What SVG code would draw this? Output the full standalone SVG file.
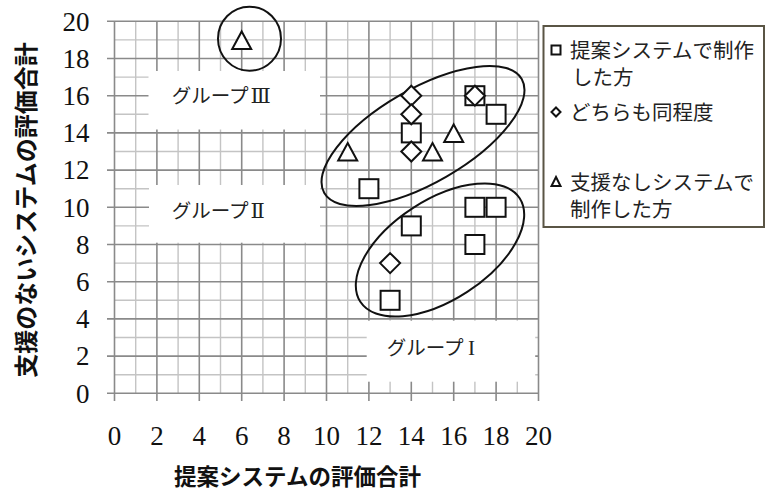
<svg xmlns="http://www.w3.org/2000/svg" xmlns:xlink="http://www.w3.org/1999/xlink" width="765" height="491" viewBox="0 0 765 491">
<style>
.maj{stroke:#8a8a8a;stroke-width:1.6;fill:none}
.min{stroke:#c4c4c4;stroke-width:1.4;fill:none}
.num{font-family:'Liberation Serif','DejaVu Serif',serif;font-size:27px;fill:#111}
.ttl{font-family:'Noto Sans CJK JP',sans-serif;font-weight:bold;fill:#111}
.grp{font-family:'Noto Sans CJK JP',sans-serif;font-size:19.5px;fill:#222}
.rn{font-family:'Liberation Serif','DejaVu Serif',serif;font-size:21px;fill:#222}
.leg{font-family:'Noto Sans CJK JP',sans-serif;font-size:20.5px;fill:#222}
.mk{fill:#fff;stroke:#111;stroke-width:2}
.ell{fill:none;stroke:#111;stroke-width:2}
</style>
<defs>
<rect id="sq" class="mk" x="-9.5" y="-9.5" width="19" height="19"/>
<path id="dm" class="mk" d="M0,-10 L10,0 L0,10 L-10,0 Z"/>
<path id="tr" class="mk" d="M0,-8.5 L9.5,9 L-9.5,9 Z"/>
</defs>
<rect width="765" height="491" fill="#fff"/>
<g id="grid">
<path class="min" d="M135.7,21.3V393.3M178.1,21.3V393.3M220.5,21.3V393.3M262.9,21.3V393.3M305.3,21.3V393.3M347.7,21.3V393.3M390.1,21.3V393.3M432.5,21.3V393.3M474.9,21.3V393.3M517.3,21.3V393.3"/>
<path class="min" d="M114.5,374.7H538.5M114.5,337.5H538.5M114.5,300.3H538.5M114.5,263.1H538.5M114.5,225.9H538.5M114.5,188.7H538.5M114.5,151.5H538.5M114.5,114.3H538.5M114.5,77.1H538.5M114.5,39.9H538.5"/>
<path class="maj" d="M114.5,21.3V401M156.9,21.3V401M199.3,21.3V401M241.7,21.3V401M284.1,21.3V401M326.5,21.3V401M368.9,21.3V401M411.3,21.3V401M453.7,21.3V401M496.1,21.3V401M538.5,21.3V401"/>
<path class="maj" d="M107,393.3H538.5M107,356.1H538.5M107,318.9H538.5M107,281.7H538.5M107,244.5H538.5M107,207.3H538.5M107,170.1H538.5M107,132.9H538.5M107,95.7H538.5M107,58.5H538.5M107,21.3H538.5"/>
</g>
<g id="ytick-labels" class="num" text-anchor="end">
<text x="89.5" y="402.5">0</text>
<text x="89.5" y="365.3">2</text>
<text x="89.5" y="328.1">4</text>
<text x="89.5" y="290.9">6</text>
<text x="89.5" y="253.7">8</text>
<text x="89.5" y="216.5">10</text>
<text x="89.5" y="179.3">12</text>
<text x="89.5" y="142.1">14</text>
<text x="89.5" y="104.9">16</text>
<text x="89.5" y="67.7">18</text>
<text x="89.5" y="30.5">20</text>
</g>
<g id="xtick-labels" class="num" text-anchor="middle">
<text x="114.5" y="445">0</text>
<text x="156.9" y="445">2</text>
<text x="199.3" y="445">4</text>
<text x="241.7" y="445">6</text>
<text x="284.1" y="445">8</text>
<text x="326.5" y="445">10</text>
<text x="368.9" y="445">12</text>
<text x="411.3" y="445">14</text>
<text x="453.7" y="445">16</text>
<text x="496.1" y="445">18</text>
<text x="538.5" y="445">20</text>
</g>
<g id="x-title"><text class="ttl" x="297.5" y="484.5" font-size="22.5" text-anchor="middle">提案システムの評価合計</text></g>
<g id="y-title"><text class="ttl" font-size="24" text-anchor="middle" transform="translate(26.5,210) rotate(-90)" x="0" y="8.5">支援のないシステムの評価合計</text></g>
<g id="group3">
<rect x="148.5" y="71" width="171.5" height="58.5" fill="#fff"/>
<text class="grp" x="171.7" y="103.4">グループ<tspan class="rn" dx="2">Ⅲ</tspan></text>
</g>
<g id="group2">
<rect x="149" y="185" width="171" height="57.7" fill="#fff"/>
<text class="grp" x="171.7" y="218.4">グループ<tspan class="rn" dx="2">Ⅱ</tspan></text>
</g>
<g id="group1">
<rect x="366.7" y="320.7" width="168.5" height="61" fill="#fff"/>
<text class="grp" x="386.7" y="355">グループ <tspan class="rn">I</tspan></text>
</g>
<g id="connectors">
<ellipse class="ell" cx="249.5" cy="38.7" rx="31.5" ry="32"/>
<ellipse class="ell" cx="423" cy="136" rx="114" ry="47" transform="rotate(-30 423 136)"/>
<ellipse class="ell" cx="440" cy="250" rx="95" ry="50" transform="rotate(-33 440 250)"/>
</g>
<g id="squares">
<use xlink:href="#sq" x="368.9" y="188.7"/>
<use xlink:href="#sq" x="411.3" y="132.9"/>
<use xlink:href="#sq" x="411.3" y="225.9"/>
<use xlink:href="#sq" x="390.1" y="300.3"/>
<use xlink:href="#sq" x="474.9" y="95.7"/>
<use xlink:href="#sq" x="496.1" y="114.3"/>
<use xlink:href="#sq" x="474.9" y="207.3"/>
<use xlink:href="#sq" x="496.1" y="207.3"/>
<use xlink:href="#sq" x="474.9" y="244.5"/>
</g>
<g id="diamonds">
<use xlink:href="#dm" x="411.3" y="95.7"/>
<use xlink:href="#dm" x="411.3" y="114.3"/>
<use xlink:href="#dm" x="411.3" y="151.5"/>
<use xlink:href="#dm" x="474.9" y="95.7"/>
<use xlink:href="#dm" x="390.1" y="263.1"/>
</g>
<g id="triangles">
<use xlink:href="#tr" x="241.7" y="39.9"/>
<use xlink:href="#tr" x="347.7" y="151.5"/>
<use xlink:href="#tr" x="432.5" y="151.5"/>
<use xlink:href="#tr" x="453.7" y="132.9"/>
</g>
<g id="legend">
<rect x="543.5" y="26" width="220.5" height="201" fill="#fff" stroke="#5a5545" stroke-width="2"/>
<rect x="551.5" y="45.5" width="9" height="9" fill="none" stroke="#111" stroke-width="2"/>
<path d="M556,107.5 L560.5,112 L556,116.5 L551.5,112 Z" fill="none" stroke="#111" stroke-width="2"/>
<path d="M556,177 L560.5,186 L551.5,186 Z" fill="none" stroke="#111" stroke-width="2"/>
<text class="leg" x="570" y="57.5">提案システムで制作</text>
<text class="leg" x="572" y="84.5">した方</text>
<text class="leg" x="570" y="119.5">どちらも同程度</text>
<text class="leg" x="570" y="189.5">支援なしシステムで</text>
<text class="leg" x="570" y="216.5">制作した方</text>
</g>
</svg>
